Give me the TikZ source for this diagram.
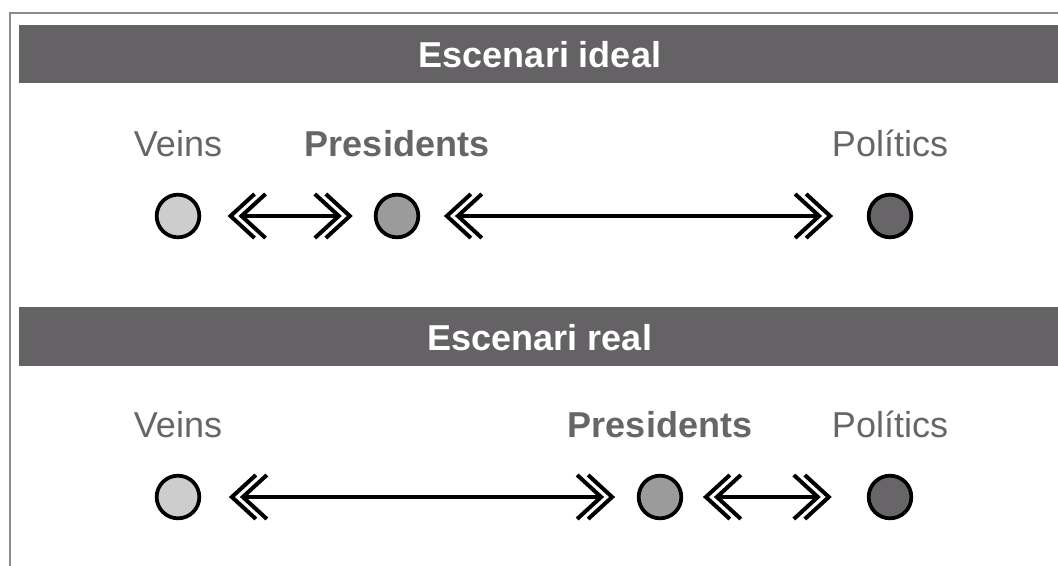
\documentclass[tikz,border=0pt]{standalone}
\usepackage{fontspec}
\setmainfont{Liberation Sans}
\usetikzlibrary{positioning}
\definecolor{barc}{RGB}{100,98,100}
\definecolor{framec}{RGB}{140,140,140}
\definecolor{lblc}{RGB}{102,102,102}
\definecolor{lightc}{RGB}{205,205,205}
\definecolor{midc}{RGB}{155,155,155}
\definecolor{darkc}{RGB}{103,101,103}
\tikzset{
  actor/.style={circle,draw=black,line width=2.8pt,minimum size=32pt,inner sep=0pt},
  lbl/.style={anchor=base,text=lblc,font=\fontsize{27}{30}\selectfont},
  bartext/.style={anchor=base,text=white,font=\fontsize{27}{30}\selectfont\bfseries},
  shaft/.style={line width=3.4pt},
  chevline/.style={line width=3pt,miter limit=10},
  chevl/.pic={\draw[chevline] (24,-22) -- (0,0) -- (24,22) (35,-22) -- (11,0) -- (35,22);},
  chevr/.pic={\draw[chevline] (-24,-22) -- (0,0) -- (-24,22) (-35,-22) -- (-11,0) -- (-35,22);}
}
\begin{document}
\begin{tikzpicture}[x=0.75pt,y=-0.75pt]
  \useasboundingbox (0,0) rectangle (1058,565);
  \draw[framec,line width=1.5pt] (10,566) -- (10,13) -- (1059,13);
  % ideal
  \fill[barc] (19,25) rectangle (1059,83);
  \node[bartext] (ideal) at (540,67) {Escenari ideal};
  \node[actor,fill=lightc] (v1) at (178,216) {};
  \node[actor,fill=midc] (p1) at (397,216) {};
  \node[actor,fill=darkc] (q1) at (890,216) {};
  \node[lbl] (veins1) at ([yshift=45pt]v1.center) {Veins};
  \node[lbl,font=\fontsize{27}{30}\selectfont\bfseries] (pres1) at ([yshift=45pt]p1.center) {Presidents};
  \node[lbl] (pol1) at ([yshift=45pt]q1.center) {Polítics};
  \draw[shaft,shorten <=29pt,shorten >=25.5pt] (v1) -- (p1);
  \pic at ([xshift=22pt]v1.east) {chevl};
  \pic at ([xshift=-18pt]p1.west) {chevr};
  \draw[shaft,shorten <=27.5pt,shorten >=35pt] (p1) -- (q1);
  \pic at ([xshift=20pt]p1.east) {chevl};
  \pic at ([xshift=-27.5pt]q1.west) {chevr};
  % real
  \fill[barc] (19,307) rectangle (1059,366);
  \node[bartext] (real) at (540,350) {Escenari real};
  \node[actor,fill=lightc] (v2) at (178,497) {};
  \node[actor,fill=midc] (p2) at (660,497) {};
  \node[actor,fill=darkc] (q2) at (890,497) {};
  \node[lbl] (veins2) at ([yshift=45pt]v2.center) {Veins};
  \node[lbl,font=\fontsize{27}{30}\selectfont\bfseries] (pres2) at ([yshift=45pt]p2.center) {Presidents};
  \node[lbl] (pol2) at ([yshift=45pt]q2.center) {Polítics};
  \draw[shaft,shorten <=30.5pt,shorten >=26pt] (v2) -- (p2);
  \pic at ([xshift=23pt]v2.east) {chevl};
  \pic at ([xshift=-18.5pt]p2.west) {chevr};
  \draw[shaft,shorten <=24.5pt,shorten >=36pt] (p2) -- (q2);
  \pic at ([xshift=17pt]p2.east) {chevl};
  \pic at ([xshift=-28.5pt]q2.west) {chevr};
\end{tikzpicture}
\end{document}
